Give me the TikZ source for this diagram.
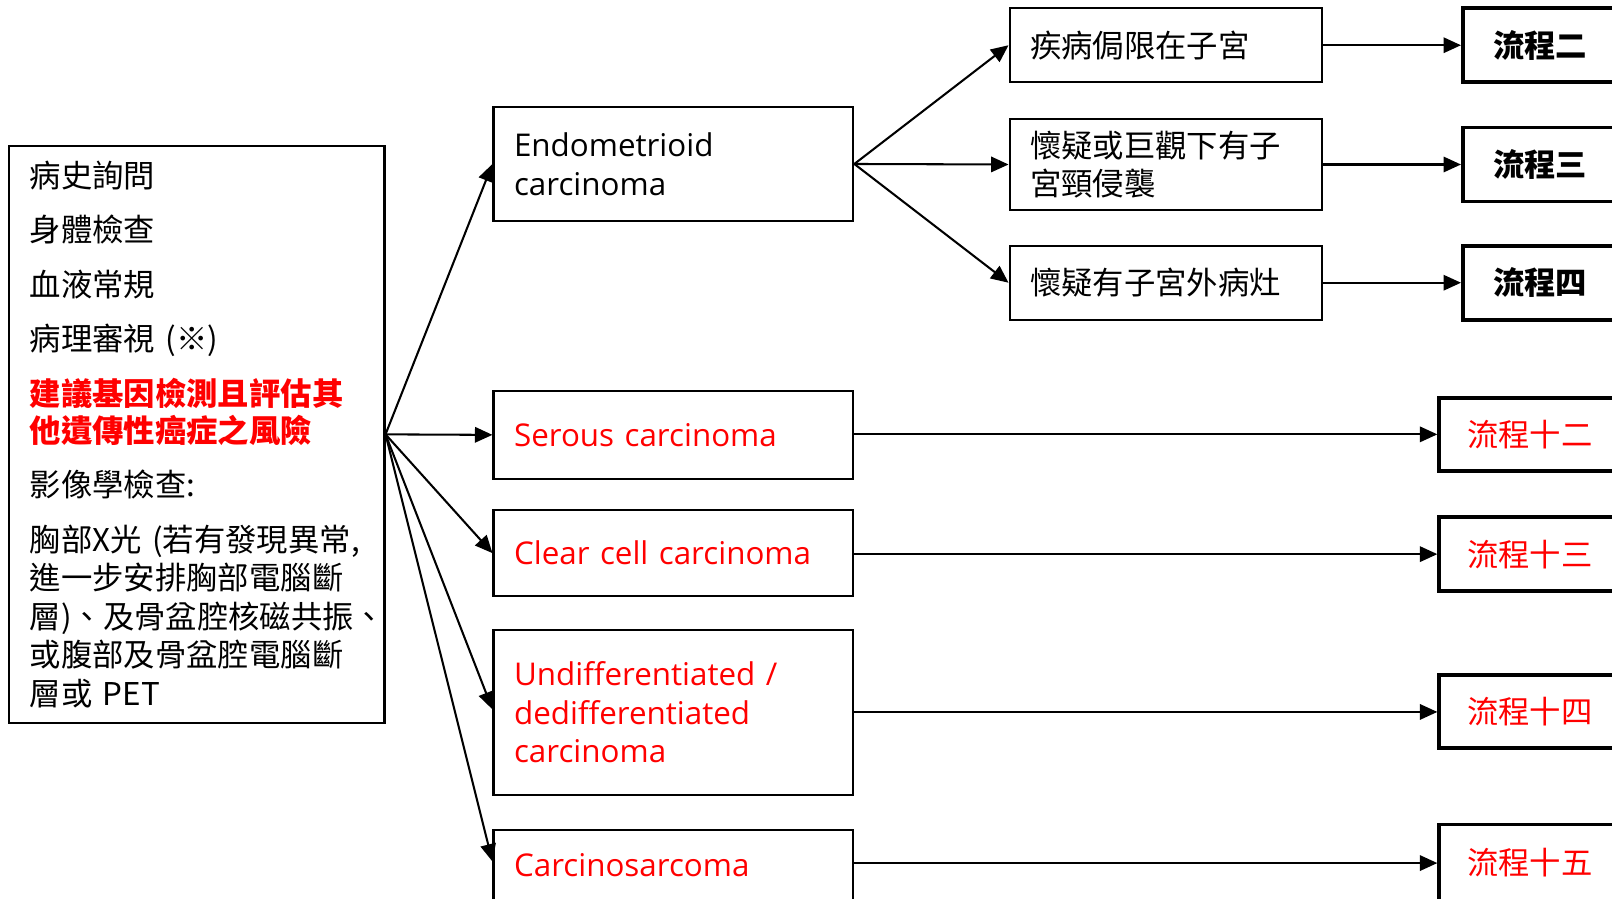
\documentclass[tikz,border=0pt]{standalone}
\usepackage{fontspec}
\setmainfont{Open Sans}
\newfontfamily\cjk{Noto Sans CJK TC}
\usetikzlibrary{arrows.meta,calc}
\begin{document}
\begin{tikzpicture}[x=1pt,y=-1pt,
  box/.style={draw, line width=2pt, rectangle, inner xsep=20pt, inner ysep=0pt,
    align=left, font=\fontsize{30.5}{37.5}\selectfont},
  cbox/.style={box, font=\cjk\fontsize{30.5}{37.5}\selectfont},
  mid/.style={cbox, text width=264pt, minimum width=304pt},
  typ/.style={box, text width=310pt, minimum width=350pt, text=red},
  flow/.style={draw, line width=3.8pt, rectangle, inner sep=0pt, align=center,
    font=\cjk\fontsize{30.5}{37.5}\selectfont},
  flowk/.style={flow, minimum width=150pt, minimum height=72pt, font=\cjk\bfseries\fontsize{30.5}{37.5}\selectfont},
  flowr/.style={flow, minimum width=176pt, minimum height=71pt, text=red},
  arr/.style={line width=2pt, -{Triangle[length=17pt,width=15pt]}},
]
\useasboundingbox (0,0) rectangle (1568,873.5);
\fill[white] (0,0) rectangle (1568,873.5);
\clip (0,0) rectangle (1568,873.5);

% left box
\node[cbox, text width=325pt, minimum width=365pt, minimum height=561pt] (L) at (191.5,422.5)
 {病史詢問\\[15.5pt]身體檢查\\[15.5pt]血液常規\\[15.5pt]病理審視 (※)\\[15.5pt]%
  {\color{red}\bfseries 建議基因檢測且評估其}\\[-1.5pt]{\color{red}\bfseries 他遺傳性癌症之風險}\\[15.5pt]%
  影像學檢查:\\[15.5pt]胸部X光 (若有發現異常,\\進一步安排胸部電腦斷\\層)、及骨盆腔核磁共振、\\或腹部及骨盆腔電腦斷\\層或 PET};

% histology boxes
\node[box, text width=310pt, minimum width=350pt, minimum height=111pt] (endo) at (655,159.5) {Endometrioid\\carcinoma};
\node[typ, minimum height=86pt] (ser) at (655,423) {Serous carcinoma};
\node[typ, minimum height=84pt] (clr) at (655,538) {Clear cell carcinoma};
\node[typ, minimum height=160pt] (und) at (655,693) {Undifferentiated /\\dedifferentiated\\carcinoma};
\node[typ, minimum height=70pt] (car) at (655,842) {Carcinosarcoma};

% endometrioid sub boxes
\node[mid, minimum height=72pt] (m1) at (1134,44) {疾病侷限在子宮};
\node[mid, minimum height=88pt] (m2) at (1134,160) {懷疑或巨觀下有子\\宮頸侵襲};
\node[mid, minimum height=72pt] (m3) at (1134,275) {懷疑有子宮外病灶};

% flow boxes
\node[flowk] (f2) at (1498,44) {流程二};
\node[flowk] (f3) at (1498,160) {流程三};
\node[flowk] (f4) at (1498,275) {流程四};
\node[flowr] (f12) at (1488,422.5) {流程十二};
\node[flowr, minimum height=72pt] (f13) at (1488,539) {流程十三};
\node[flowr] (f14) at (1488,692.5) {流程十四};
\node[flowr, minimum height=75pt] (f15) at (1488,839.5) {流程十五};

% connectors
\draw[arr] (L.east) -- (endo.west);
\draw[arr] (L.east) -- (ser.west);
\draw[arr] (L.east) -- (clr.west);
\draw[arr] (L.east) -- ([yshift=3pt]und.west);
\draw[arr] (L.east) -- ([yshift=4pt]car.west);

\draw[arr] (endo.east) -- (m1.west);
\draw[arr] (endo.east) -- (m2.west);
\draw[arr] (endo.east) -- (m3.west);

\draw[arr] (m1.east) -- (f2.west);
\draw[arr] (m2.east) -- (f3.west);
\draw[arr] (m3.east) -- (f4.west);

\draw[arr] (ser.east |- f12.west) -- (f12.west);
\draw[arr] (clr.east |- f13.west) -- (f13.west);
\draw[arr] (und.east |- f14.west) -- (f14.west);
\draw[arr] (car.east |- f15.west) -- (f15.west);
\end{tikzpicture}
\end{document}
